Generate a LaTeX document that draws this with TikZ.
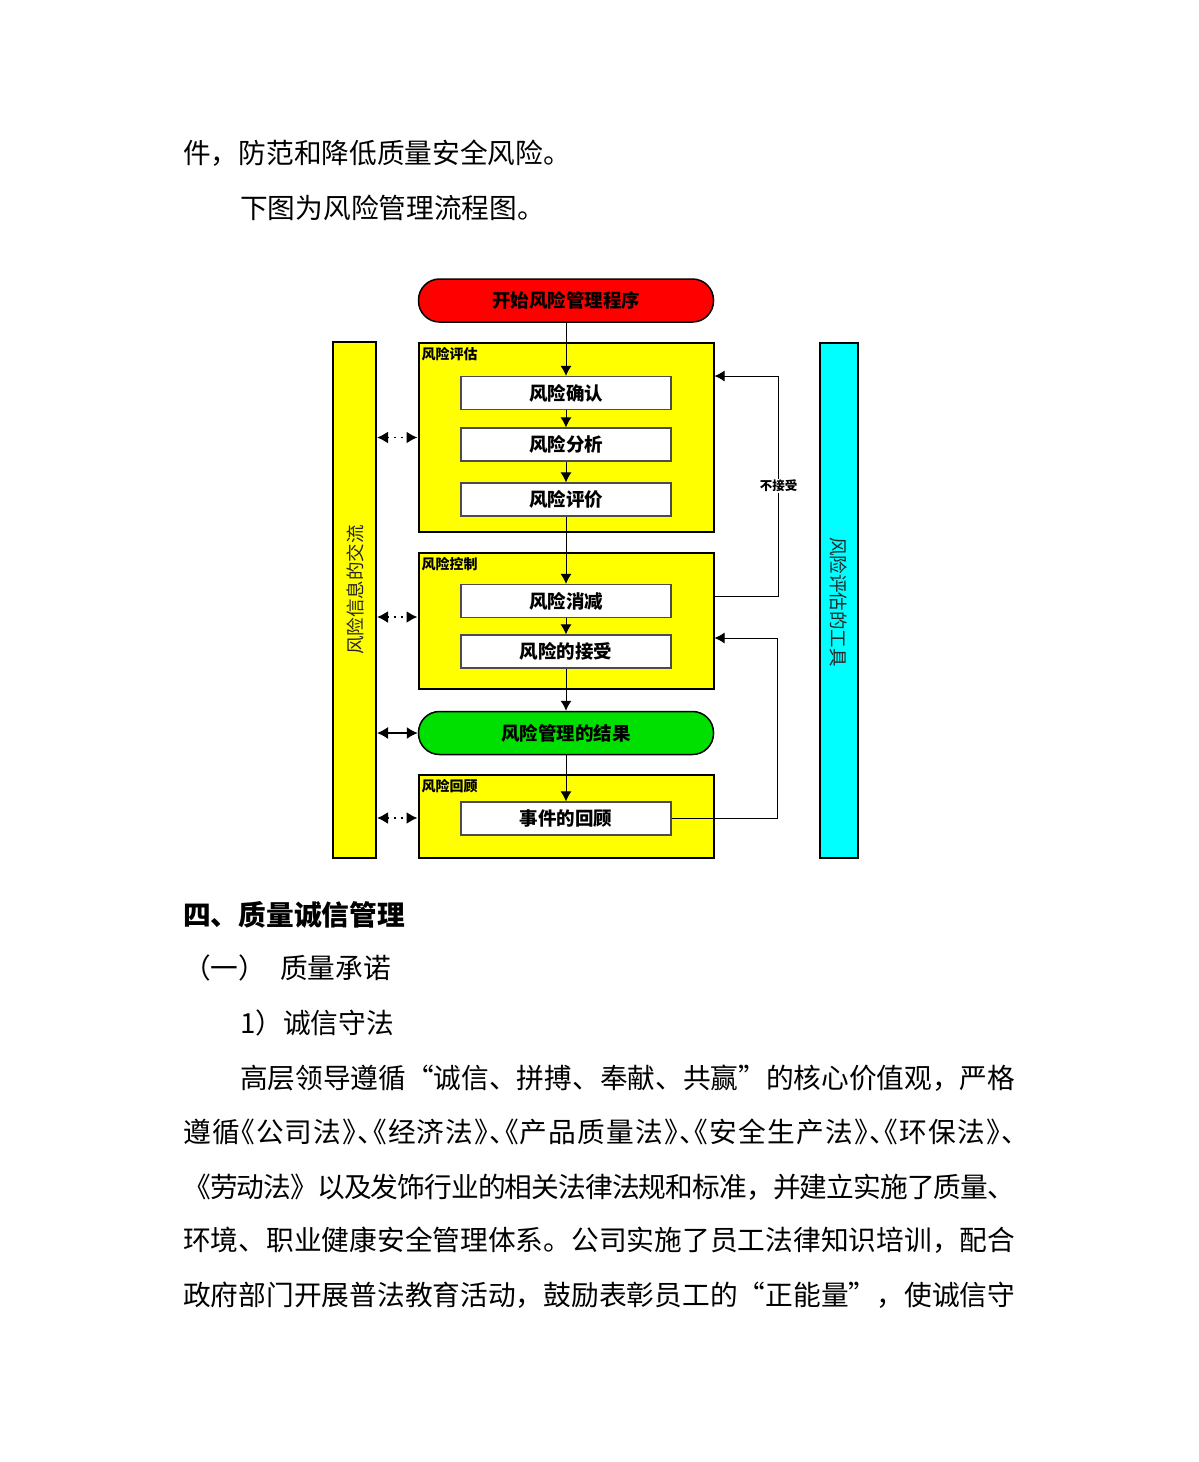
\documentclass[tikz,border=0pt]{standalone}
\usepackage{fontspec}
\setmainfont{Noto Sans CJK SC}
\newfontfamily\halffont[RawFeature=+halt]{Noto Sans CJK SC}
\usetikzlibrary{arrows.meta}

\definecolor{startred}{RGB}{255,0,0}
\definecolor{endgreen}{RGB}{0,224,0}
\definecolor{bargold}{RGB}{255,255,0}
\definecolor{toolcyan}{RGB}{0,255,255}

% spread the characters of one line over a given width
\def\spreadA#1{\ifx\relax#1\else#1\hskip 0pt plus 1fil minus 1pt\expandafter\spreadA\fi}
\newcommand\spreadline[2]{\hbox to #1{\spreadA#2\relax\unskip}}

\tikzset{
  body/.style = {anchor=west, inner sep=0pt, font=\fontsize{27.7}{30}\selectfont},
  group/.style = {draw=black, line width=2pt, fill=bargold, minimum width=295pt, inner sep=0pt},
  grouplabel/.style = {anchor=north west, inner sep=0pt, font=\bfseries\fontsize{14}{15}\selectfont},
  stepbox/.style = {draw=black!70, line width=1.2pt, fill=white, minimum width=210pt,
                    minimum height=33pt, inner sep=0pt, font=\bfseries\fontsize{18.5}{20}\selectfont},
  pill/.style = {draw=black, line width=1.5pt, rounded corners=21pt, minimum width=295pt,
                 minimum height=43pt, inner sep=0pt, font=\bfseries\fontsize{18.5}{20}\selectfont},
  bar/.style = {draw=black, line width=2pt, inner sep=0pt},
  bartext/.style = {inner sep=0pt, text=black!85, font=\fontsize{18.5}{20}\selectfont},
  flow/.style = {-{Latex[length=10pt,width=11pt]}, line width=1pt},
  talk/.style = {{Latex[length=11pt,width=12pt]}-{Latex[length=11pt,width=12pt]}, line width=1.8pt,
                 dash pattern=on 1.8pt off 5pt},
}

\begin{document}
\begin{tikzpicture}[x=1pt, y=-1pt]
  \useasboundingbox (0,0) rectangle (1199,1462);
  \fill[white] (0,0) rectangle (1199,1462);

  % text above the chart
  \node[body] (l1) at (183,153) {件，防范和降低质量安全风险。};
  \node[body] (l2) at (240,208) {下图为风险管理流程图。};

  % side bars
  \node[bar, fill=bargold, minimum width=43pt, minimum height=516pt] (info) at (354.5,600) {};
  \node[bartext, rotate=90] (infotxt) at (355,590) {风险信息的交流};
  \node[bar, fill=toolcyan, minimum width=38pt, minimum height=515pt] (tools) at (839,600.5) {};
  \node[bartext, rotate=-90] (toolstxt) at (839,602) {风险评估的工具};

  % groups
  \node[group, minimum height=189pt] (g1) at (566,437.5) {};
  \node[grouplabel] (g1lab) at ([shift={(4pt,-5pt)}]g1.north west) {风险评估};
  \node[group, minimum height=136pt] (g2) at (566,621) {};
  \node[grouplabel] (g2lab) at ([shift={(4pt,-5pt)}]g2.north west) {风险控制};
  \node[group, minimum height=83pt] (g3) at (566,816.5) {};
  \node[grouplabel] (g3lab) at ([shift={(4pt,-5pt)}]g3.north west) {风险回顾};

  % steps
  \node[pill, fill=startred] (start) at (566,300.5) {开始风险管理程序};
  \node[stepbox] (s1) at (566,393) {风险确认};
  \node[stepbox] (s2) at (566,444.5) {风险分析};
  \node[stepbox] (s3) at (566,499.5) {风险评价};
  \node[stepbox] (s4) at (566,601) {风险消减};
  \node[stepbox] (s5) at (566,651.5) {风险的接受};
  \node[pill, fill=endgreen] (result) at (566,733) {风险管理的结果};
  \node[stepbox] (review) at (566,818.5) {事件的回顾};

  % main flow
  \draw[flow] (start) -- (s1);
  \draw[flow] (s1) -- (s2);
  \draw[flow] (s2) -- (s3);
  \draw[flow] (s3) -- (s4);
  \draw[flow] (s4) -- (s5);
  \draw[flow] (s5) -- (result);
  \draw[flow] (result) -- (review);

  % feedback loops
  \draw[flow] ([yshift=25pt]g2.east) -- ++(64,0)
    |- node[pos=0.25, fill=white, inner sep=1pt, font=\bfseries\fontsize{12.5}{13}\selectfont] {不接受}
    ([yshift=61.5pt]g1.east);
  \draw[flow] (review.east) -- ++(106,0) |- ([yshift=-17pt]g2.east);

  % communication
  \draw[talk] (info.east |- g1.west) -- (g1.west);
  \draw[talk] (info.east |- 0,617) -- (g2.west |- 0,617);
  \draw[{Latex[length=11pt,width=12pt]}-{Latex[length=11pt,width=12pt]}, line width=1.4pt]
    (info.east |- result.west) -- (result.west);
  \draw[talk] (info.east |- 0,818) -- (g3.west |- 0,818);

  % text below the chart
  \node[body, font=\bfseries\fontsize{27.7}{30}\selectfont] (h4) at (183,915) {四、质量诚信管理};
  \node[body] (h41) at (183,968) {（一）\hspace{14pt}质量承诺};
  \node[body] (h411) at (240,1023) {1）诚信守法};
  \node[body] (p1) at (240,1078) {\spreadline{775pt}{高层领导遵循“诚信、拼搏、奉献、共赢”的核心价值观，严格}};
  \node[body] (p2) at (183,1132) {\halffont\spreadline{832pt}{遵循《公司法》、《经济法》、《产品质量法》、《安全生产法》、《环保法》、}};
  \node[body] (p3) at (183,1187) {\spreadline{832pt}{《劳动法》以及发饰行业的相关法律法规和标准，并建立实施了质量、}};
  \node[body] (p4) at (183,1240) {\spreadline{832pt}{环境、职业健康安全管理体系。公司实施了员工法律知识培训，配合}};
  \node[body] (p5) at (183,1295) {\spreadline{832pt}{政府部门开展普法教育活动，鼓励表彰员工的“正能量”，使诚信守}};
\end{tikzpicture}
\end{document}
